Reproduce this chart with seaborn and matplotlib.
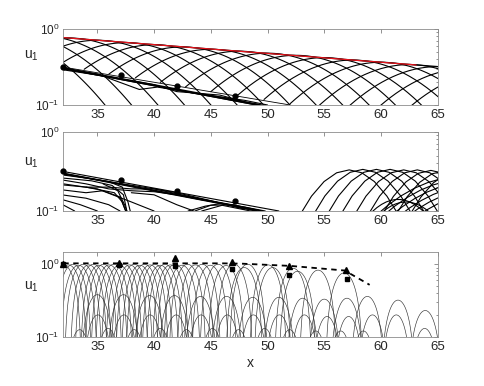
import numpy as np
import pandas as pd
import matplotlib
matplotlib.use("Agg")
import matplotlib.pyplot as plt
import seaborn as sns
from matplotlib.ticker import LogLocator, NullFormatter

# ---------------- data ----------------
# panel 1: envelope (black) and red upper bound
env_x = [32, 65]
env_u = [0.77, 0.32]
red_x = [32, 63.1]
red_u = [0.77, 0.336]
# lattice arcs (log-parabola humps touching the envelope); their rising
# halves start on the thin lower line
lat_c = [25, 27.5, 30, 32.5, 35, 37.5, 40, 42.5, 45, 47.5, 50, 52.5, 55, 57.5, 60, 62.5, 65, 67.5, 70]
lat_peak = [0.93, 0.87, 0.81, 0.76, 0.71, 0.66, 0.62, 0.58, 0.54, 0.51, 0.48, 0.45, 0.42, 0.39, 0.365, 0.34, 0.32, 0.30, 0.28]
lat_k = 0.0085
base_x = [32, 52, 70]
base_u = [0.315, 0.1, 0.03]
# lower straight / kinked lines in panel 1
p1_lines = [
    ([32, 52], [0.315, 0.1]),
    ([32, 49.3], [0.305, 0.1]),
    ([32, 49.0], [0.30, 0.1]),
    ([32, 35, 38.7, 40.3, 44, 48, 50], [0.30, 0.255, 0.16, 0.172, 0.14, 0.115, 0.1]),
    ([32, 36, 40, 42, 45.8, 48.5, 49.5], [0.29, 0.235, 0.185, 0.15, 0.135, 0.105, 0.1]),
]
p1_lw = [0.6, 1.6, 0.8, 0.8, 0.8]
dots_x = [32.0, 37.1, 42.0, 47.1]
dots_u = [0.32, 0.245, 0.18, 0.133]

# panel 2: left bundle of lines
p2_lines = [
    ([32, 51], [0.315, 0.1]),
    ([32, 49.8], [0.30, 0.1]),
    ([32, 49.5], [0.298, 0.1]),
    ([32, 49.2], [0.295, 0.1]),
    ([32, 40, 49.0], [0.29, 0.19, 0.1]),
    ([32, 34, 36, 37.2, 37.7, 37.9], [0.284, 0.26, 0.235, 0.2, 0.13, 0.1]),
    ([32, 34.5, 36.3, 37.3, 37.6], [0.26, 0.24, 0.21, 0.16, 0.1]),
    ([32, 34, 36, 38, 40, 42, 44, 46, 49], [0.245, 0.22, 0.19, 0.18, 0.175, 0.16, 0.14, 0.125, 0.1]),
    ([32, 34, 36, 38, 40, 42, 45, 48], [0.213, 0.2, 0.2, 0.19, 0.19, 0.17, 0.135, 0.105]),
    ([32, 34, 35.5, 37, 37.5], [0.184, 0.17, 0.18, 0.15, 0.1]),
    ([32, 34, 36, 37], [0.159, 0.145, 0.12, 0.1]),
    ([32, 33.5, 35], [0.138, 0.12, 0.1]),
    ([32, 33], [0.119, 0.1]),
    ([32, 35, 38, 40], [0.22, 0.19, 0.13, 0.1]),
    ([35.5, 36.8, 37.4, 37.6], [0.22, 0.18, 0.12, 0.1]),
    ([34, 36.5, 37.2, 37.5], [0.2, 0.17, 0.13, 0.1]),
    ([43, 44.5, 46, 48, 49.5], [0.1, 0.115, 0.125, 0.112, 0.1]),
    ([43.6, 45, 47, 49], [0.1, 0.118, 0.12, 0.1]),
    ([44.2, 46, 48.5], [0.1, 0.118, 0.1]),
    ([38, 40, 42, 43.5], [0.17, 0.16, 0.12, 0.1]),
]
# panel 2: right groups of humps (centre, peak, curvature)
p2r_c = [57.2, 58.4, 59.6, 60.8, 62.0, 63.2, 64.4, 65.6, 66.8]
p2r_peak = [0.33, 0.335, 0.335, 0.335, 0.33, 0.33, 0.325, 0.32, 0.315]
p2r_k = 0.03
p2b_c = [67.0, 67.4, 67.8, 68.2, 68.6, 69.0, 61.5, 62.2]
p2b_peak = [0.27, 0.25, 0.23, 0.21, 0.19, 0.17, 0.14, 0.13]
p2b_k = [0.0088, 0.0088, 0.0088, 0.0088, 0.0088, 0.0088, 0.03, 0.03]

# panel 3: sine humps (start, length, peak)
tall_x0 = [30.3, 30.8, 31.2, 31.7, 32.1, 32.6, 33.0, 33.5, 33.9, 34.4, 34.8, 35.3, 35.7, 36.2,
           36.6, 37.1, 37.5, 38.0, 38.4, 38.9, 39.3, 39.8, 40.2, 40.8, 41.3, 42.0, 42.6, 43.3,
           44.0, 44.7, 45.4, 46.3, 46.6, 48.4, 48.8, 50.6, 51.0, 52.8, 55.1]
tall_peak = [1.0, 0.98, 1.0, 0.97, 1.0, 0.98, 1.0, 0.97, 1.0, 0.98, 1.0, 0.97, 1.0, 0.98,
             1.0, 0.97, 1.0, 0.98, 1.0, 0.97, 1.0, 0.98, 1.0, 0.97, 1.0, 0.98, 1.0, 0.97,
             1.0, 0.96, 1.0, 0.9, 1.0, 0.98, 0.9, 0.88, 0.8, 0.83, 0.76]
tall_len = 3.3
mid_x0 = [33.5, 35.8, 38.1, 40.3, 42.6, 44.9, 47.2, 49.5, 51.6, 53.5, 55.5, 57.3, 60.0, 62.4]
mid_peak = [0.38, 0.38, 0.37, 0.37, 0.36, 0.36, 0.35, 0.35, 0.34, 0.33, 0.34, 0.36, 0.32, 0.23]
mid_len = 3.0
low_x0 = [33.7, 36.0, 38.3, 40.6, 42.8, 45.1, 47.4, 49.7, 51.9, 53.9, 55.8, 57.9, 60.0, 62.5]
low_peak = [0.2, 0.2, 0.2, 0.2, 0.2, 0.2, 0.2, 0.2, 0.2, 0.19, 0.19, 0.2, 0.2, 0.13]
low_len = 2.7
min_x0 = [32.2, 34.7, 37.0, 39.3, 41.6, 43.9, 46.2, 48.5, 50.7, 53.0, 55.2, 57.2]
min_peak = [0.125, 0.13, 0.125, 0.13, 0.125, 0.13, 0.125, 0.13, 0.125, 0.12, 0.12, 0.12]
min_len = 2.5
dash_x = [32, 46, 47.7, 52, 56.8, 59.0]
dash_u = [1.03, 1.03, 1.02, 0.95, 0.82, 0.52]
tri_x = [32.0, 36.9, 41.85, 46.9, 51.9, 56.9]
tri_u = [1.02, 1.05, 1.21, 1.09, 0.96, 0.83]
sq_x = [32.0, 36.9, 41.85, 46.9, 51.85, 57.0]
sq_u = [1.0, 0.98, 0.95, 0.86, 0.71, 0.62]


def log_arc(c, peak, k, n=90, lo=0.085):
    hw = np.sqrt(np.log10(peak / lo) / k)
    xs = np.linspace(c - hw, c + hw, n)
    return xs, peak * 10 ** (-k * (xs - c) ** 2)


def lattice_arc(c, peak, k):
    xs, us = log_arc(c, peak, k, n=140)
    floor = 10 ** np.interp(xs, base_x, np.log10(base_u))
    keep = (xs >= c) | (us >= floor)
    return xs[keep], us[keep]


def hump(x0, length, peak, n=120):
    xs = np.linspace(x0 + 0.002, x0 + length - 0.002, n)
    return xs, peak * np.sin(np.pi * (xs - x0) / length)


def to_frame(curves):
    rows = []
    for i, (xs, us) in enumerate(curves):
        rows.append(pd.DataFrame({"x": xs, "u": us, "id": i}))
    return pd.concat(rows, ignore_index=True)


def draw(ax, curves, color="black", lw=0.8):
    sns.lineplot(data=to_frame(curves), x="x", y="u", units="id", estimator=None,
                 sort=False, color=color, lw=lw, legend=False, ax=ax)


def style(ax, ytop, label_y):
    ax.set_yscale("log")
    ax.set_xlim(32, 65)
    ax.set_ylim(0.1, ytop)
    ax.set_xticks([35, 40, 45, 50, 55, 60, 65])
    ax.set_yticks([0.1, 1])
    ax.set_yticklabels([r"$\mathdefault{10^{-1}}$", r"$\mathdefault{10^{0}}$"])
    ax.yaxis.set_minor_locator(LogLocator(subs=np.arange(2, 10)))
    ax.yaxis.set_minor_formatter(NullFormatter())
    ax.tick_params(which="both", direction="in", top=True, right=True, width=0.5,
                   color="#666666", labelcolor="#262626", pad=3)
    ax.tick_params(axis="x", labelsize=9.5)
    ax.tick_params(axis="y", labelsize=8.5)
    ax.tick_params(which="major", length=3)
    ax.tick_params(which="minor", length=1.8)
    for s in ax.spines.values():
        s.set_color("#8c8c8c")
        s.set_linewidth(0.6)
    ax.set_xlabel("")
    ax.set_ylabel(r"u$_{\mathdefault{1}}$", rotation=0, fontsize=10, color="#262626")
    ax.yaxis.set_label_coords(-0.085, label_y)


sns.set_theme(style="white")
plt.rcParams["font.family"] = ["Liberation Sans", "DejaVu Sans"]
plt.rcParams["mathtext.fontset"] = "custom"
plt.rcParams["mathtext.rm"] = "Liberation Sans"
plt.rcParams["mathtext.it"] = "Liberation Sans:italic"

fig = plt.figure(figsize=(4.85, 3.86), dpi=100)
ax1 = fig.add_axes([0.1305, 0.728, 0.772, 0.197])
ax2 = fig.add_axes([0.1305, 0.4534, 0.772, 0.2054])
ax3 = fig.add_axes([0.1305, 0.1277, 0.772, 0.2207])

# ---- panel 1 ----
draw(ax1, [lattice_arc(c, p, lat_k) for c, p in zip(lat_c, lat_peak)], lw=0.8)
for (xs, us), lw in zip(p1_lines, p1_lw):
    draw(ax1, [(xs, us)], lw=lw)
draw(ax1, [(env_x, env_u)], lw=0.9)
draw(ax1, [(red_x, red_u)], color="#e8131b", lw=0.9)
ax1.plot(dots_x, dots_u, "o", color="black", ms=3.5, clip_on=False, zorder=5)
style(ax1, 1.0, 0.55)

# ---- panel 2 ----
draw(ax2, p2_lines, lw=0.8)
draw(ax2, [log_arc(c, p, p2r_k, n=9) for c, p in zip(p2r_c, p2r_peak)], lw=0.8)
draw(ax2, [log_arc(c, p, k, n=14) for c, p, k in zip(p2b_c, p2b_peak, p2b_k)], lw=0.8)
ax2.plot(dots_x, dots_u, "o", color="black", ms=3.5, clip_on=False, zorder=5)
style(ax2, 1.0, 0.52)

# ---- panel 3 ----
humps = [hump(x0, tall_len, p) for x0, p in zip(tall_x0, tall_peak)]
humps += [hump(x0, mid_len, p) for x0, p in zip(mid_x0, mid_peak)]
humps += [hump(x0, low_len, p) for x0, p in zip(low_x0, low_peak)]
humps += [hump(x0, min_len, p) for x0, p in zip(min_x0, min_peak)]
draw(ax3, humps, color="#333333", lw=0.45)
ax3.plot(dash_x, dash_u, "--", color="black", lw=1.3, dashes=(3, 2.5), zorder=4)
ax3.plot(tri_x, tri_u, "^", color="black", ms=3.8, clip_on=False, zorder=5)
ax3.plot(sq_x, sq_u, "s", color="black", ms=3.0, clip_on=False, zorder=5)
style(ax3, 1.5, 0.5)
ax3.set_xlabel("x", fontsize=10, color="#262626", labelpad=2)

fig.savefig("out.png", dpi=100)
